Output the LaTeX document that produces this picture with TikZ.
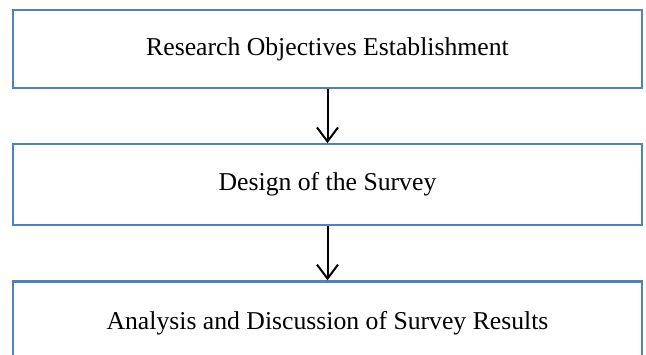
\documentclass[tikz,border=0pt]{standalone}
\usepackage{fontspec}
\setmainfont{Liberation Serif}
\usetikzlibrary{arrows.meta,positioning}
\definecolor{boxblue}{HTML}{4F81BD}

\begin{document}
\begin{tikzpicture}[
  x=1pt, y=-1pt,
  font=\fontsize{25.7}{30}\selectfont,
  stagebox/.style={draw=boxblue, line width=2.2pt, minimum width=629pt, inner sep=0pt},
  flowarrow/.style={draw, line width=2pt, -{Straight Barb[length=14pt, width=21pt, line width=2pt]}},
]
\useasboundingbox (0,0) rectangle (646,354);
\clip (0,0) rectangle (646,354);

% --- stages of the study ---
\node[stagebox, minimum height=78pt] (objectives) at (327.5,49)
  {Research Objectives Establishment};
\node[stagebox, minimum height=81pt, below=54pt of objectives] (design)
  {Design of the Survey};
\node[stagebox, minimum height=84pt, below=54pt of design] (analysis)
  {Analysis and Discussion of Survey Results};

% --- arrows between stages ---
\draw[flowarrow] (objectives) -- (design);
\draw[flowarrow] (design) -- (analysis);

\end{tikzpicture}
\end{document}
